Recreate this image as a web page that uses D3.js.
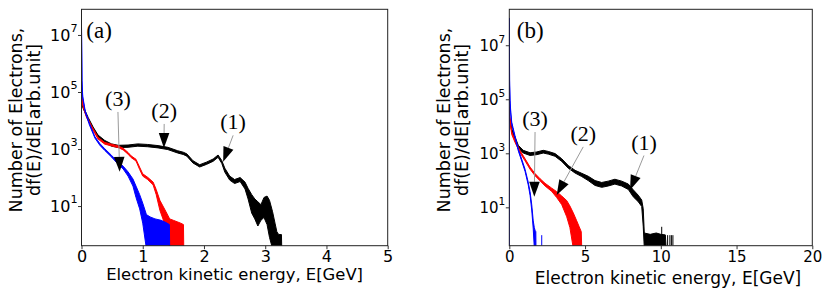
<!DOCTYPE html>
<html><head><meta charset="utf-8">
<script src="https://cdn.jsdelivr.net/npm/d3@7"></script>
<style>body{margin:0;background:#fff}svg{display:block}</style>
</head><body>
<svg id="c" width="830" height="295"></svg>
<script>
// ---------- DATA (energies in GeV, spectrum as log10 of df/dE: upper / lower edge of the noisy trace) ----------
// Panel (a)
const aBlackE   = [0.005,0.02,0.06,0.11,0.19,0.27,0.38,0.49,0.6,0.76,0.92,1.08,1.25,1.41,1.57,1.66,1.72,1.82,1.93,2.04,2.15,2.23,2.29,2.34,2.42,2.5,2.59,2.67,2.72,2.78,2.83,2.88,2.93,2.98,3.03,3.07,3.12,3.16,3.19,3.22,3.265,3.27];
const aBlackTop = [4.64,4.54,4.34,4.1,3.77,3.49,3.3,3.18,3.13,3.14,3.18,3.16,3.12,3.06,2.94,2.89,2.83,2.59,2.45,2.54,2.65,2.79,2.6,2.33,2.05,1.93,2.0,1.84,1.62,1.4,1.25,1.15,1.05,1.3,1.35,1.2,0.8,0.4,0.1,0.0,0.0,-0.5];
const aBlackBot = [4.56,4.46,4.26,4.02,3.69,3.41,3.22,3.1,3.05,3.06,3.1,3.08,3.04,2.98,2.86,2.81,2.75,2.51,2.37,2.46,2.57,2.71,2.5,2.19,1.91,1.79,1.86,1.6,1.25,0.75,0.55,0.3,0.5,0.6,0.35,-0.1,-0.5,-0.5,-0.5,-0.5,-0.5,-0.5];

const aRedE   = [0,0.005,0.02,0.08,0.16,0.27,0.38,0.49,0.6,0.68,0.76,0.81,0.89,0.95,1.0,1.08,1.17,1.22,1.28,1.33,1.38,1.44,1.5,1.56,1.62,1.665,1.67];
const aRedTop = [5.0,4.93,4.58,4.18,3.83,3.41,3.23,3.17,3.11,3.03,2.88,2.76,2.64,2.36,2.13,2.01,1.84,1.58,1.2,1.0,0.8,0.55,0.5,0.45,0.4,0.35,-0.5];
const aRedBot = [4.94,4.87,4.52,4.12,3.77,3.35,3.17,3.11,3.05,2.97,2.82,2.7,2.58,2.28,2.05,1.93,1.74,1.4,0.85,0.55,0.2,-0.5,-0.5,-0.5,-0.5,-0.5,-0.5];

const aBlueE   = [0,0,0.008,0.02,0.06,0.13,0.22,0.3,0.38,0.49,0.57,0.68,0.76,0.84,0.89,0.95,1.0,1.06,1.12,1.2,1.3,1.38,1.435,1.44];
const aBlueTop = [-0.5,7.3,5.4,4.85,4.35,3.9,3.43,3.19,3.01,2.78,2.6,2.4,2.2,1.95,1.7,1.4,1.1,0.7,0.62,0.55,0.5,0.42,0.35,-0.5];
const aBlueBot = [-0.5,7.3,5.25,4.78,4.29,3.84,3.38,3.13,2.95,2.72,2.53,2.3,2.05,1.7,1.3,0.9,0.4,-0.5,-0.5,-0.5,-0.5,-0.5,-0.5,-0.5];

// Panel (b)
const bBlackE   = [0,0.02,0.16,0.38,0.6,0.92,1.37,1.81,2.24,2.57,3.02,3.46,3.89,4.34,4.78,5.21,5.66,6.1,6.53,6.97,7.42,7.86,8.18,8.51,8.74,8.84,8.91,9.3,9.7,10.0,10.3,10.35];
const bBlackTop = [4.45,4.35,3.91,3.6,3.29,3.11,3.02,3.05,3.11,3.07,2.99,2.8,2.55,2.37,2.26,2.15,1.99,1.92,1.97,2.04,1.97,1.86,1.65,1.45,1.27,0.95,0.05,0.0,0.05,0.0,-0.02,-0.5];
const bBlackBot = [4.35,4.25,3.81,3.5,3.19,3.01,2.92,2.95,3.01,2.97,2.89,2.7,2.45,2.27,2.14,1.99,1.81,1.74,1.79,1.86,1.79,1.66,1.39,1.21,1.03,0.3,-0.5,-0.5,-0.5,-0.5,-0.5,-0.5];
const bBlackSpikeE = [10.06,10.45,10.6,10.7,10.8];
const bBlackSpikeV = [0.28,-0.03,-0.03,-0.03,-0.03];

const bRedE   = [0,0.02,0.1,0.16,0.38,0.71,1.04,1.37,1.7,2.03,2.36,2.8,3.13,3.46,3.79,4.0,4.22,4.45,4.6,4.75,4.78];
const bRedTop = [4.72,4.42,4.05,3.8,3.48,3.1,2.8,2.49,2.25,2.06,1.89,1.71,1.58,1.42,1.25,1.05,0.8,0.5,0.3,0.1,-0.5];
const bRedBot = [4.6,4.32,3.95,3.7,3.4,3.02,2.72,2.41,2.17,1.98,1.79,1.59,1.36,1.1,0.65,0.25,-0.5,-0.5,-0.5,-0.5,-0.5];

const bBlueE   = [0,0,0.02,0.05,0.1,0.16,0.38,0.6,0.82,1.04,1.25,1.37,1.48,1.58,1.65,1.7,1.75,1.76];
const bBlueTop = [-0.5,8.0,5.7,4.95,4.5,4.15,3.64,3.15,2.78,2.41,1.93,1.58,1.1,0.5,0.25,0.15,0.1,-0.5];
const bBlueBot = [-0.5,8.0,5.5,4.85,4.42,4.07,3.57,3.08,2.71,2.33,1.83,1.45,0.9,0.2,-0.5,-0.5,-0.5,-0.5];
const bBlueSpikeE = [2.14];
const bBlueSpikeV = [-0.03];

// Axis ticks
const aXTicks = [0,1,2,3,4,5];
const bXTicks = [0,5,10,15,20];
const yTickExp = [1,3,5,7];

// Annotations: label, text anchor (E, log10 value), arrow tip (E, log10 value)
const aAnnLabels = ["(3)","(2)","(1)"];
const aAnnText   = [[0.595,4.51],[1.35,4.09],[2.476,3.69]];
const aAnnTip    = [[0.623,2.2],[1.346,3.035],[2.313,2.55]];
const bAnnLabels = ["(3)","(2)","(1)"];
const bAnnText   = [[1.70,4.01],[4.88,3.46],[8.89,3.14]];
const bAnnTip    = [[1.65,1.39],[3.13,1.46],[7.97,1.64]];

// ---------- DRAW ----------
const svg = d3.select("#c");

function series(E, top, bot, color){ return {E, top, bot, color}; }

function panel(cfg){
  const g = svg.append("g");
  const x = d3.scaleLinear().domain(cfg.xDomain).range([cfg.left, cfg.right]);
  const y = d3.scaleLog().domain(cfg.yDomain).range([cfg.bottom, cfg.top]);
  const clipId = "clip" + cfg.id;
  svg.append("clipPath").attr("id", clipId).append("rect")
    .attr("x", cfg.left).attr("y", cfg.top)
    .attr("width", cfg.right - cfg.left).attr("height", cfg.bottom - cfg.top);
  const plot = g.append("g").attr("clip-path", `url(#${clipId})`);

  cfg.series.forEach(s => {
    const pts = s.E.map((e,i) => ({e, t: Math.pow(10, s.top[i]), b: Math.pow(10, s.bot[i])}));
    const area = d3.area().x(d => x(d.e)).y0(d => y(d.b)).y1(d => y(d.t));
    plot.append("path").attr("d", area(pts))
      .attr("fill", s.color).attr("stroke", s.color)
      .attr("stroke-width", 1).attr("stroke-linejoin", "round");
  });
  (cfg.spikes || []).forEach(sp => {
    sp.E.forEach((e,i) => {
      plot.append("line")
        .attr("x1", x(e)).attr("x2", x(e))
        .attr("y1", y(cfg.yDomain[0])).attr("y2", y(Math.pow(10, sp.V[i])))
        .attr("stroke", sp.color).attr("stroke-width", 1);
    });
  });

  // frame
  g.append("rect").attr("x", cfg.left).attr("y", cfg.top)
    .attr("width", cfg.right - cfg.left).attr("height", cfg.bottom - cfg.top)
    .attr("fill", "none").attr("stroke", "#222").attr("stroke-width", 1);

  // x axis
  const xa = g.append("g").attr("transform", `translate(0,${cfg.bottom})`)
    .call(d3.axisBottom(x).tickValues(cfg.xTicks).tickSize(3.5).tickPadding(3).tickFormat(d3.format("d")));
  xa.select(".domain").remove();
  xa.selectAll(".tick line").attr("stroke", "#333");
  xa.selectAll(".tick text").attr("font-family", "DejaVu Sans").attr("font-size", cfg.tickFont).attr("fill", "#000")
    .attr("dy", null).attr("y", cfg.xTickBase - cfg.bottom);

  // y axis
  const ya = g.append("g").attr("transform", `translate(${cfg.left},0)`)
    .call(d3.axisLeft(y).tickValues(yTickExp.map(k => Math.pow(10,k))).tickSize(3.5).tickFormat(""));
  ya.select(".domain").remove();
  ya.selectAll(".tick line").attr("stroke", "#333");
  yTickExp.forEach(k => {
    const yy = y(Math.pow(10,k));
    const t = g.append("text").attr("x", cfg.left - 4).attr("y", yy + cfg.tickFont*0.36)
      .attr("text-anchor", "end").attr("font-family", "DejaVu Sans").attr("font-size", cfg.tickFont).attr("fill", "#000");
    t.append("tspan").text("10");
    t.append("tspan").attr("font-size", cfg.tickFont*0.7).attr("dy", -cfg.tickFont*0.52).text(String(k));
  });

  // axis labels
  g.append("text").attr("x", cfg.xLabelX).attr("y", cfg.xLabelY)
    .attr("text-anchor", "middle").attr("font-family", "DejaVu Sans").attr("font-size", cfg.xLabelFont)
    .text("Electron kinetic energy, E[GeV]");
  const ylines = ["Number of Electrons,", "df(E)/dE[arb.unit]"];
  ylines.forEach((ln, i) => {
    g.append("text").attr("transform", `translate(${cfg.yLabelX[i]},${cfg.yLabelY}) rotate(-90)`)
      .attr("text-anchor", "middle").attr("font-family", "DejaVu Sans").attr("font-size", cfg.yLabelFont)
      .text(ln);
  });

  // panel tag
  g.append("text").attr("x", x(cfg.tag[1])).attr("y", y(Math.pow(10, cfg.tag[2])))
    .attr("font-family", "Liberation Serif").attr("font-size", 23).text(cfg.tag[0]);

  // annotations
  cfg.ann.labels.forEach((lab, i) => {
    const tx = x(cfg.ann.text[i][0]), ty = y(Math.pow(10, cfg.ann.text[i][1]));
    const px = x(cfg.ann.tip[i][0]), py = y(Math.pow(10, cfg.ann.tip[i][1]));
    g.append("text").attr("x", tx).attr("y", ty).attr("text-anchor", "middle")
      .attr("font-family", "Liberation Serif").attr("font-size", 22).text(lab);
    const sx = tx, sy = ty + 6;
    const dx = px - sx, dy = py - sy, L = Math.hypot(dx, dy);
    const ux = dx / L, uy = dy / L;
    const hl = 15, hw = 5.3;
    const bx = px - ux * hl, by = py - uy * hl;
    g.append("line").attr("x1", sx).attr("y1", sy).attr("x2", bx).attr("y2", by)
      .attr("stroke", "#9a9a9a").attr("stroke-width", 1);
    g.append("path").attr("d", `M${px},${py}L${bx - uy*hw},${by + ux*hw}L${bx + uy*hw},${by - ux*hw}Z`)
      .attr("fill", "#000");
  });
}

panel({
  id: "a", left: 81.5, right: 387.7, top: 9.3, bottom: 245.7,
  xDomain: [0,5], yDomain: [0.407, 7.94e7], xTicks: aXTicks,
  tickFont: 16, xTickBase: 262.5, xLabelFont: 16.4, xLabelX: 234.6, xLabelY: 280,
  yLabelFont: 17.5, yLabelX: [21.5, 40], yLabelY: 120,
  tag: ["(a)", 0.078, 6.905],
  series: [
    series(aBlackE, aBlackTop, aBlackBot, "#000"),
    series(aRedE, aRedTop, aRedBot, "#ff0000"),
    series(aBlueE, aBlueTop, aBlueBot, "#0000ff")
  ],
  spikes: [],
  ann: {labels: aAnnLabels, text: aAnnText, tip: aAnnTip}
});

panel({
  id: "b", left: 509.3, right: 812.3, top: 9.3, bottom: 245.7,
  xDomain: [0,20], yDomain: [0.38, 2.14e8], xTicks: bXTicks,
  tickFont: 15, xTickBase: 262.5, xLabelFont: 17, xLabelX: 668, xLabelY: 284,
  yLabelFont: 17.5, yLabelX: [449.5, 468], yLabelY: 120,
  tag: ["(b)", 0.49, 7.28],
  series: [
    series(bBlackE, bBlackTop, bBlackBot, "#000"),
    series(bRedE, bRedTop, bRedBot, "#ff0000"),
    series(bBlueE, bBlueTop, bBlueBot, "#0000ff")
  ],
  spikes: [
    {E: bBlackSpikeE, V: bBlackSpikeV, color: "#000"},
    {E: bBlueSpikeE, V: bBlueSpikeV, color: "#0000ff"}
  ],
  ann: {labels: bAnnLabels, text: bAnnText, tip: bAnnTip}
});
</script>
</body></html>
